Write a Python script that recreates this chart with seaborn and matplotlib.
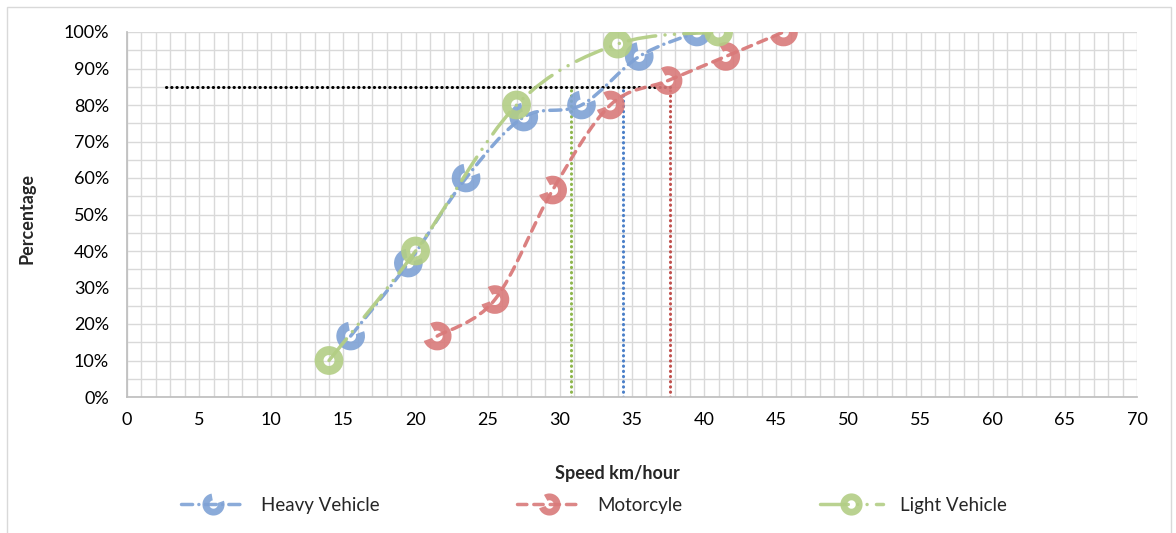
import numpy as np
import pandas as pd
import matplotlib
matplotlib.use("Agg")
import matplotlib.pyplot as plt
import seaborn as sns
from matplotlib.path import Path
from matplotlib.patches import PathPatch, Wedge, Rectangle
from matplotlib.lines import Line2D
from matplotlib.ticker import PercentFormatter, MultipleLocator

# ---- data ----
heavy_speed = [15.5, 19.5, 23.5, 27.5, 31.5, 35.5, 39.5]
heavy_pct = [16.7, 36.7, 60.0, 76.7, 80.0, 93.3, 100.0]
moto_speed = [21.5, 25.5, 29.5, 33.5, 37.5, 41.5, 45.5]
moto_pct = [16.7, 26.7, 56.7, 80.0, 86.7, 93.3, 100.0]
light_speed = [14.0, 20.0, 27.0, 34.0, 41.0]
light_pct = [10.0, 40.0, 80.0, 96.7, 100.0]
series_names = ["Heavy Vehicle", "Motorcyle", "Light Vehicle"]
p85_level = 85.0
p85_line_start = 2.7
p85_speeds = [34.4, 37.6, 30.8]  # heavy, motorcycle, light

sns.set_theme(style="white")
plt.rcParams["font.family"] = ["Lato", "DejaVu Sans"]

fig = plt.figure(figsize=(11.76, 5.33), dpi=100)
ax = fig.add_axes([127/1176, 1-397/533, 1010/1176, 365/533])

# outer chart frame
fig.patches.append(Rectangle((7/1176, -0.05), 1164/1176, 1-7/533+0.05,
                             transform=fig.transFigure, fill=False,
                             edgecolor="#D9D9D9", lw=1.0, zorder=0))

def ring(theta1, theta2, width):
    return Wedge((0, 0), 1.0, theta1, theta2, width=width).get_path()

blue_c, red_c, green_c = "#7FA2D5", "#D97A7A", "#B3CE85"
styles = {
    "Heavy Vehicle": dict(color=blue_c, dashes=(3.2, 1.8, 0.01, 1.8), marker=ring(100, 380, 0.62)),
    "Motorcyle": dict(color=red_c, dashes=(2.7, 2.0), marker=ring(-160, 120, 0.62)),
    "Light Vehicle": dict(color=green_c, dashes=(8.0, 2.7, 0.01, 2.7, 0.01, 2.7), marker=ring(0, 360, 0.62)),
}
data = {
    "Heavy Vehicle": (heavy_speed, heavy_pct),
    "Motorcyle": (moto_speed, moto_pct),
    "Light Vehicle": (light_speed, light_pct),
}

def smooth_path(xs, ys, t=1/6):
    P = np.column_stack([xs, ys]).astype(float)
    n = len(P)
    verts = [P[0]]
    codes = [Path.MOVETO]
    for i in range(n-1):
        p_prev = P[i-1] if i > 0 else P[i]
        p_next = P[i+2] if i+2 < n else P[i+1]
        c1 = P[i] + (P[i+1] - p_prev) * t
        c2 = P[i+1] - (p_next - P[i]) * t
        verts += [c1, c2, P[i+1]]
        codes += [Path.CURVE4]*3
    return Path(verts, codes)

lw = 2.5
z = 3
for name in series_names:
    xs, ys = data[name]
    st = styles[name]
    patch = PathPatch(smooth_path(xs, ys), fill=False, edgecolor=st["color"],
                      lw=lw, linestyle=(0, st["dashes"]), zorder=z, alpha=0.95)
    patch.set_capstyle("round")
    ax.add_patch(patch)
    df = pd.DataFrame({"speed": xs, "pct": ys})
    sns.scatterplot(data=df, x="speed", y="pct", ax=ax, marker=st["marker"],
                    s=430, color=st["color"], edgecolor="none", linewidth=0,
                    alpha=0.9, zorder=z+1, legend=False)
    z += 2

# 85th percentile reference lines
dot = (0, (0.1, 1.6))
ax.plot([p85_line_start, max(p85_speeds)], [p85_level, p85_level], color="black",
        lw=2.2, linestyle=dot, dash_capstyle="round", zorder=2)
for sp, c in zip(p85_speeds, ["#4A7FC8", "#C0504D", "#8DB64C"]):
    ax.plot([sp, sp], [0, p85_level], color=c, lw=2.2,
            linestyle=dot, dash_capstyle="round", zorder=2)

ax.set_xlim(0, 70)
ax.set_ylim(0, 100)
ax.xaxis.set_major_locator(MultipleLocator(5))
ax.xaxis.set_minor_locator(MultipleLocator(1))
ax.yaxis.set_major_locator(MultipleLocator(10))
ax.yaxis.set_minor_locator(MultipleLocator(5))
ax.yaxis.set_major_formatter(PercentFormatter(100, decimals=0))
ax.grid(True, which="both", color="#D9D9D9", lw=1.0)
ax.set_axisbelow(True)
ax.tick_params(axis="both", which="both", length=0, labelsize=13, colors="black")
ax.tick_params(axis="y", pad=13)
ax.tick_params(axis="x", pad=11)
for s in ax.spines.values():
    s.set_visible(False)
ax.spines["bottom"].set_visible(True)
ax.spines["bottom"].set_color("#BFBFBF")
ax.spines["left"].set_visible(True)
ax.spines["left"].set_color("#BFBFBF")

ax.set_xlabel("Speed km/hour", fontsize=13, fontweight="bold")
ax.set_ylabel("Percentage", fontsize=13, fontweight="bold")
ax.xaxis.set_label_coords((617-127)/1010, -0.186)
ax.yaxis.set_label_coords(-0.091, 0.49)

handles = []
for name in series_names:
    st = styles[name]
    handles.append(Line2D([0], [0], color=st["color"], lw=lw,
                          linestyle=(0, st["dashes"]), dash_capstyle="round",
                          marker=st["marker"], markersize=16, markerfacecolor=st["color"],
                          markeredgewidth=0, alpha=0.9))
fig.legend(handles, series_names, loc="center", bbox_to_anchor=(594/1176, 1-505/533),
           ncol=3, frameon=False, fontsize=13.5, handlelength=3.4, handletextpad=0.9,
           columnspacing=7.3)

fig.savefig("out.png", dpi=100)
